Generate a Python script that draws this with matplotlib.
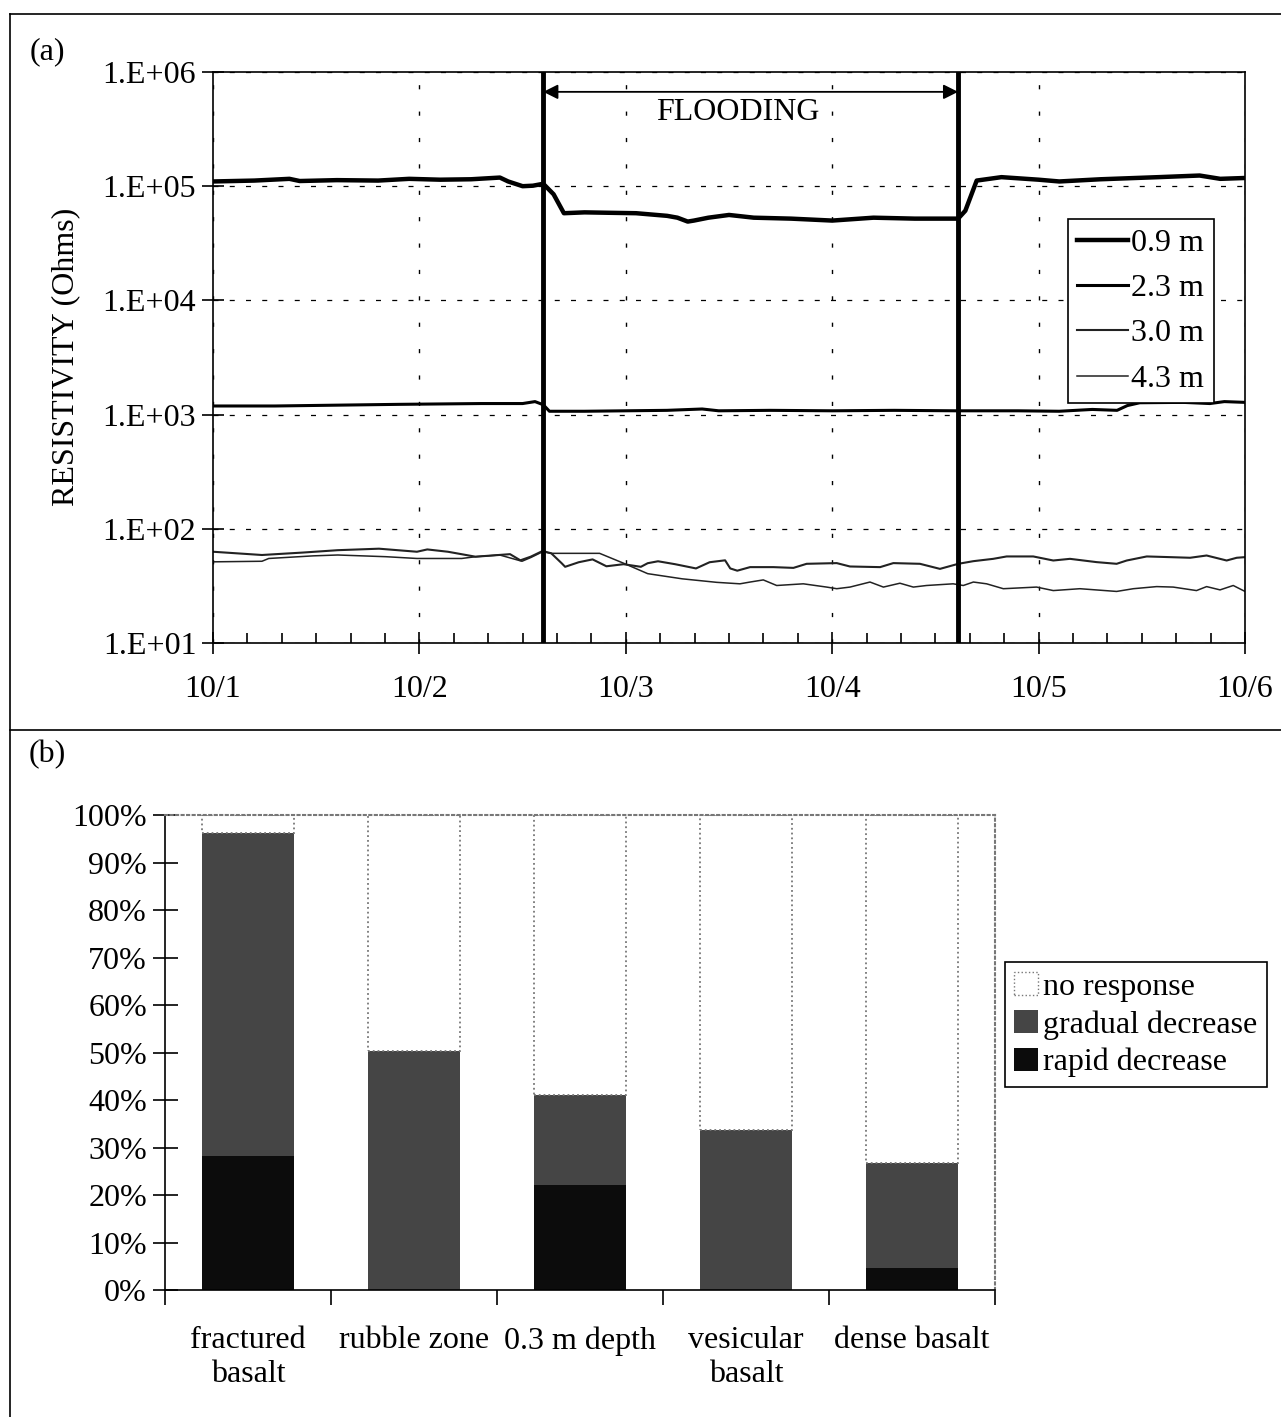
import matplotlib
matplotlib.use('Agg')
import numpy as np
import matplotlib.pyplot as plt
from matplotlib.lines import Line2D
from matplotlib.patches import Patch
from matplotlib.ticker import FixedLocator, FuncFormatter, NullLocator

plt.rcParams['font.family'] = ['Liberation Serif', 'DejaVu Serif']
plt.rcParams['font.size'] = 23

# ---- panel (a): resistivity time series (days after 10/1, Ohms) ----
t_09 = [0.0, 0.2, 0.37, 0.42, 0.6, 0.8, 0.95, 1.1, 1.25, 1.39, 1.43, 1.5, 1.55, 1.6,
        1.65, 1.7, 1.8, 1.92, 2.05, 2.2, 2.25, 2.3, 2.33, 2.4, 2.5, 2.62, 2.8, 3.0,
        3.2, 3.4, 3.61, 3.645, 3.7, 3.82, 4.0, 4.1, 4.3, 4.58, 4.78, 4.88, 5.0]
r_09 = [1.10e5, 1.12e5, 1.16e5, 1.11e5, 1.13e5, 1.12e5, 1.16e5, 1.14e5, 1.15e5, 1.19e5,
        1.10e5, 1.00e5, 1.01e5, 1.05e5, 8.5e4, 5.8e4, 5.9e4, 5.85e4, 5.8e4, 5.5e4,
        5.3e4, 4.9e4, 5.0e4, 5.3e4, 5.6e4, 5.3e4, 5.2e4, 5.0e4, 5.3e4, 5.2e4, 5.2e4,
        6.1e4, 1.12e5, 1.20e5, 1.14e5, 1.10e5, 1.15e5, 1.20e5, 1.24e5, 1.16e5, 1.18e5]

t_23 = [0.0, 0.3, 0.6, 0.9, 1.1, 1.3, 1.5, 1.56, 1.6, 1.63, 1.8, 2.0, 2.2, 2.37, 2.45,
        2.7, 3.0, 3.3, 3.6, 3.9, 4.1, 4.26, 4.38, 4.43, 4.49, 4.7, 4.83, 4.9, 5.0]
r_23 = [1.19e3, 1.19e3, 1.21e3, 1.23e3, 1.24e3, 1.25e3, 1.25e3, 1.30e3, 1.22e3, 1.07e3,
        1.07e3, 1.08e3, 1.09e3, 1.12e3, 1.08e3, 1.09e3, 1.08e3, 1.09e3, 1.08e3, 1.08e3,
        1.07e3, 1.11e3, 1.09e3, 1.20e3, 1.27e3, 1.28e3, 1.25e3, 1.30e3, 1.28e3]

t_30 = [0.0, 0.237, 0.437, 0.604, 0.804, 0.988, 1.038, 1.138, 1.272, 1.439, 1.489, 1.539,
        1.597, 1.639, 1.689, 1.706, 1.772, 1.839, 1.906, 1.989, 2.073, 2.106, 2.156,
        2.239, 2.34, 2.406, 2.481, 2.506, 2.54, 2.602, 2.715, 2.812, 2.876, 3.022,
        3.086, 3.232, 3.296, 3.425, 3.522, 3.611, 3.684, 3.78, 3.845, 3.974, 4.071,
        4.152, 4.281, 4.378, 4.427, 4.524, 4.637, 4.734, 4.814, 4.911, 4.96, 5.0]
r_30 = [63, 59, 62, 65, 67, 63, 66, 63, 57, 60, 53, 57, 64, 61, 50, 46.5, 51, 54, 47, 49,
        46.5, 50, 52, 49, 45, 51, 53, 45, 43, 46.2, 46.2, 45.5, 49.4, 50.1, 46.8, 46.2,
        50.1, 49.4, 44.6, 49.4, 52.1, 54.6, 57.3, 57.3, 52.8, 54.6, 51.1, 49.4, 52.8,
        57.3, 56.5, 55.8, 58.4, 52.8, 55.8, 56.5]

t_43 = [0.0, 0.237, 0.27, 0.487, 0.604, 0.838, 0.988, 1.205, 1.272, 1.389, 1.497, 1.539,
        1.597, 1.639, 1.772, 1.873, 1.989, 2.106, 2.273, 2.44, 2.553, 2.602, 2.666,
        2.731, 2.86, 2.973, 3.022, 3.086, 3.183, 3.248, 3.328, 3.393, 3.457, 3.586,
        3.635, 3.684, 3.748, 3.829, 3.99, 4.071, 4.2, 4.378, 4.459, 4.572, 4.652,
        4.765, 4.814, 4.879, 4.943, 5.0]
r_43 = [51.4, 52, 55, 58, 59, 57, 55, 55, 57, 59, 52, 56, 63, 61, 61, 61, 50, 40.5, 36.5,
        34, 33, 34.2, 35.7, 31.9, 33, 30.9, 29.9, 30.9, 34.2, 30.9, 33.4, 30.9, 31.9,
        33, 31.9, 34.2, 33, 29.9, 30.9, 28.8, 29.9, 28.3, 29.9, 31.2, 30.9, 28.8, 31.2,
        29.2, 31.9, 28.3]

flood_start, flood_end = 1.6, 3.61
date_labels = ['10/1', '10/2', '10/3', '10/4', '10/5', '10/6']

# ---- panel (b): response percentages ----
categories = ['fractured\nbasalt', 'rubble zone', '0.3 m depth', 'vesicular\nbasalt', 'dense basalt']
rapid = [28.3, 0.0, 22.1, 0.0, 4.6]
gradual = [67.9, 50.4, 18.9, 33.7, 22.1]
no_resp = [100 - r - g for r, g in zip(rapid, gradual)]

fig = plt.figure(figsize=(12.81, 14.17), dpi=100)

# ---------------- panel (a) ----------------
ax = fig.add_axes([0.1663, 0.5462, 0.8056, 0.4030])
ax.set_yscale('log')
ax.plot(t_09, r_09, color='k', lw=3.2, label='0.9 m', solid_joinstyle='round')
ax.plot(t_23, r_23, color='k', lw=2.2, label='2.3 m')
ax.plot(t_30, r_30, color='#222', lw=1.5, label='3.0 m')
ax.plot(t_43, r_43, color='#222', lw=1.1, label='4.3 m')
ax.axvline(flood_start, color='k', lw=3.5)
ax.axvline(flood_end, color='k', lw=3.5)
ax.annotate('', xy=(flood_start, 6.7e5), xytext=(flood_end, 6.7e5),
            arrowprops=dict(arrowstyle='<|-|>', color='k', lw=1.3, mutation_scale=22,
                            shrinkA=0, shrinkB=0))
ax.text((flood_start + flood_end) / 2 - 0.065, 4.4e5, 'FLOODING', ha='center', va='center',
        fontsize=23)

ax.set_xlim(0, 5)
ax.set_ylim(1e1, 1e6)
ax.yaxis.set_major_locator(FixedLocator([1e1, 1e2, 1e3, 1e4, 1e5, 1e6]))
ax.yaxis.set_minor_locator(NullLocator())
ax.yaxis.set_major_formatter(FuncFormatter(lambda v, p: f'1.E+{int(round(np.log10(v))):02d}'))
ax.set_xticks(range(6))
ax.set_xticklabels(date_labels)
ax.set_xticks(np.arange(0, 5.01, 1 / 6), minor=True)
ax.tick_params(axis='x', which='major', direction='inout', length=16, width=1.2, pad=15)
ax.tick_params(axis='x', which='minor', direction='in', length=7, width=1.2)
ax.tick_params(axis='y', which='major', direction='inout', length=16, width=1.2, pad=4)
ax.grid(axis='y', which='major', ls=(0, (4, 9)), color='k', lw=0.9)
ax.grid(axis='x', which='major', ls=(0, (3, 16)), color='k', lw=1.0)
for s in ax.spines.values():
    s.set_linewidth(1.2)
fig.text(0.0515, 0.748, 'RESISTIVITY (Ohms)', rotation=90, ha='center', va='center')

leg = ax.legend(loc='upper left', bbox_to_anchor=(0.828, 0.743), frameon=True, fancybox=False,
                framealpha=1, edgecolor='k', handlelength=1.6, handletextpad=0.1,
                labelspacing=0.5, borderpad=0.3, borderaxespad=0, fontsize=23)
leg.get_frame().set_linewidth(1.2)

# ---------------- panel (b) ----------------
bx = fig.add_axes([0.1288, 0.0896, 0.6479, 0.3352])
x = np.arange(len(categories))
w = 0.55
bx.bar(x, rapid, w, color='#0c0c0c', label='rapid decrease')
bx.bar(x, gradual, w, bottom=rapid, color='#454545', label='gradual decrease')
bx.bar(x, no_resp, w, bottom=[r + g for r, g in zip(rapid, gradual)], color='white',
       edgecolor='#777', linestyle=':', lw=1.3, label='no response')
bx.set_xlim(-0.5, 4.5)
bx.set_ylim(0, 100)
bx.set_yticks(range(0, 101, 10))
bx.set_yticklabels([f'{v}%' for v in range(0, 101, 10)])
bx.set_xticks(x)
bx.set_xticklabels(categories, multialignment='center')
bx.set_xticks(np.arange(-0.5, 4.6, 1), minor=True)
bx.tick_params(axis='x', which='major', length=0, pad=26)
bx.tick_params(axis='x', which='minor', direction='out', length=11, width=1.2)
bx.tick_params(axis='y', direction='inout', length=18, width=1.2, pad=4)
for side in ['top', 'right']:
    bx.spines[side].set_linestyle(':')
    bx.spines[side].set_color('#777')
    bx.spines[side].set_linewidth(1.5)
for side in ['left', 'bottom']:
    bx.spines[side].set_linewidth(1.2)

handles = [Patch(facecolor='white', edgecolor='#777', linestyle=':', label='no response'),
           Patch(facecolor='#454545', label='gradual decrease'),
           Patch(facecolor='#0c0c0c', label='rapid decrease')]
leg2 = bx.legend(handles=handles, loc='upper left', bbox_to_anchor=(1.012, 0.69),
                 frameon=True, fancybox=False, framealpha=1, edgecolor='k',
                 handlelength=0.75, handleheight=0.75, handletextpad=0.15,
                 labelspacing=0.25, borderpad=0.3, borderaxespad=0, fontsize=23)
leg2.get_frame().set_linewidth(1.2)

# ---------------- outer frames ----------------
fig.add_artist(Line2D([0.0078, 1.0], [0.9901, 0.9901], color='k', lw=1.2))
fig.add_artist(Line2D([0.0078, 0.0078], [0.0, 0.9901], color='k', lw=1.2))
fig.add_artist(Line2D([0.0078, 1.0], [0.4848, 0.4848], color='k', lw=1.2))
fig.text(0.0234, 0.9633, '(a)', ha='left', va='center')
fig.text(0.0220, 0.4672, '(b)', ha='left', va='center')

fig.savefig('out.png', dpi=100)
